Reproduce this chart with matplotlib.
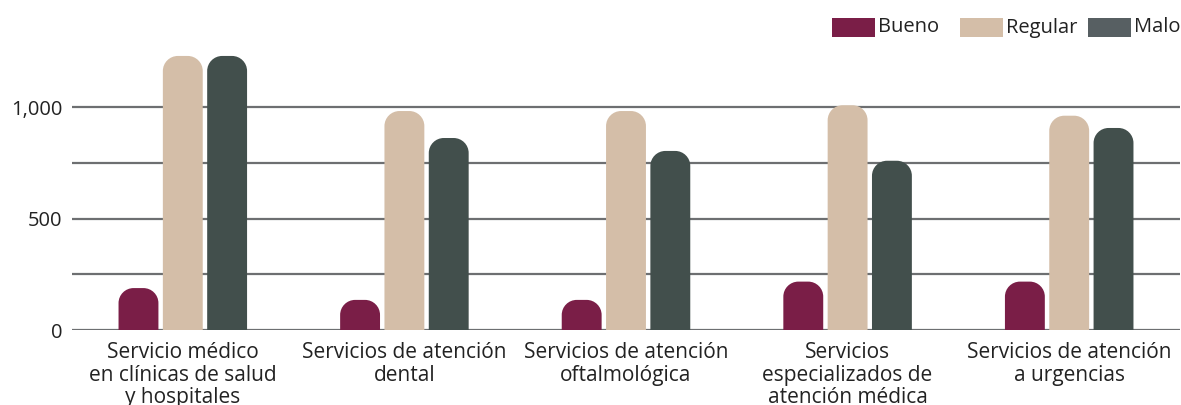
import numpy as np
import matplotlib.pyplot as plt
from matplotlib.patches import PathPatch, Rectangle
from matplotlib.path import Path

categories = [
    "Servicio médico\nen clínicas de salud\ny hospitales",
    "Servicios de atención\ndental",
    "Servicios de atención\noftalmológica",
    "Servicios\nespecializados de\natención médica",
    "Servicios de atención\na urgencias",
]
series = ["Bueno", "Regular", "Malo"]
bueno = [188, 135, 135, 217, 217]
regular = [1229, 982, 982, 1008, 961]
malo = [1229, 861, 803, 759, 906]

bar_colors = ["#7a1e47", "#d4bea8", "#424f4c"]
legend_colors = ["#7a1e47", "#d4bea8", "#575f62"]

plt.rcParams['font.family'] = ['Open Sans', 'DejaVu Sans']

W, H = 1181, 405
fig = plt.figure(figsize=(W / 100, H / 100), dpi=100)
ax = fig.add_axes([72 / W, 75 / H, 1108 / W, 276.5 / H])

x = np.arange(len(categories))
width = 0.18
step = 0.2
ymax = 1240
ax.set_xlim(-0.5, len(categories) - 0.5)
ax.set_ylim(0, ymax)

# gridlines every 250, labels every 500
for g in [0, 250, 500, 750, 1000]:
    ax.axhline(g, color="#6d6f71", lw=1.6, zorder=1)

# corner radius: 15 px, converted into x and y data units
px_x = 1108 / len(categories)
px_y = 276.5 / ymax
rx = 15 / px_x
ry = 15 / px_y
k = 0.5523


def round_top(x0, w, h):
    x1 = x0 + w
    r_x = min(rx, w / 2)
    r_y = min(ry, h)
    verts = [(x0, 0), (x1, 0), (x1, h - r_y),
             (x1, h - r_y + k * r_y), (x1 - r_x + k * r_x, h), (x1 - r_x, h),
             (x0 + r_x, h),
             (x0 + r_x - k * r_x, h), (x0, h - r_y + k * r_y), (x0, h - r_y),
             (x0, 0)]
    codes = [Path.MOVETO, Path.LINETO, Path.LINETO,
             Path.CURVE4, Path.CURVE4, Path.CURVE4,
             Path.LINETO,
             Path.CURVE4, Path.CURVE4, Path.CURVE4,
             Path.CLOSEPOLY]
    return Path(verts, codes)


for i, (vals, col) in enumerate(zip([bueno, regular, malo], bar_colors)):
    bars = ax.bar(x + (i - 1) * step, vals, width, color=col)
    for b in bars:
        b.set_visible(False)
        ax.add_patch(PathPatch(round_top(b.get_x(), b.get_width(), b.get_height()),
                               fc=col, ec="none", zorder=2))

ax.set_yticks([0, 500, 1000])
ax.set_yticklabels(["0", "500", "1,000"], fontsize=14.5, color="#222222")
ax.set_xticks(x)
ax.set_xticklabels(categories, fontsize=15, color="#222222", linespacing=1.08,
                   va="top")
ax.tick_params(length=0, pad=7)
ax.tick_params(axis="x", pad=9)
for s in ax.spines.values():
    s.set_visible(False)

# legend: fixed-width columns at the top right
for i, (name, col) in enumerate(zip(series, legend_colors)):
    lx = 832 + 128 * i
    fig.add_artist(Rectangle((lx / W, (H - 37) / H), 43 / W, 19 / H,
                             transform=fig.transFigure, fc=col, ec="none"))
    fig.text((lx + 46) / W, (H - 27.5) / H, name, fontsize=14.5,
             color="#222222", va="center", ha="left")

fig.savefig("out.png", dpi=100)
